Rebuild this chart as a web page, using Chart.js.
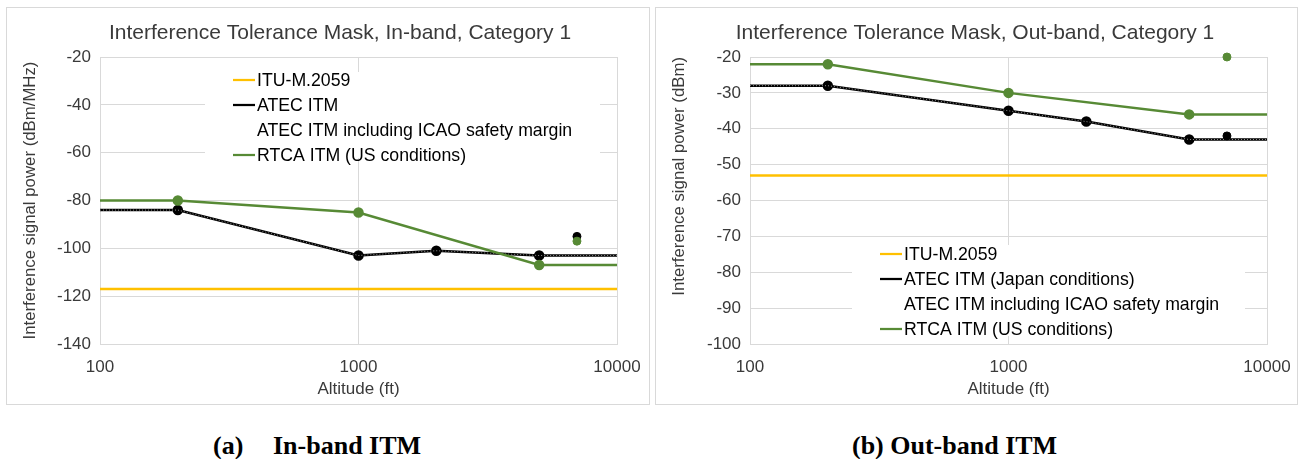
<!DOCTYPE html>
<html>
<head>
<meta charset="utf-8">
<script src="https://cdn.jsdelivr.net/npm/chart.js@4.4.1/dist/chart.umd.min.js"></script>
<style>
  html, body { margin: 0; padding: 0; background: #fff; }
  body { width: 1298px; height: 459px; position: relative; overflow: hidden; font-family: "Liberation Sans", Arial, sans-serif; }
  .panel { position: absolute; top: 7px; height: 398px; border: 1px solid #d9d9d9; box-sizing: border-box; }
  canvas { position: absolute; top: 8px; }
  .cap { position: absolute; top: 431px; font-family: "Liberation Serif", "Times New Roman", serif; font-weight: bold; font-size: 26px; line-height: 29px; color: #000; white-space: nowrap; }
</style>
</head>
<body>
<div class="panel" style="left:6px;width:644px"></div>
<div class="panel" style="left:655px;width:643px"></div>
<canvas id="inband" width="642" height="396" style="left:7px"></canvas>
<canvas id="outband" width="641" height="396" style="left:656px"></canvas>
<div class="cap" style="left:213px">(a)</div>
<div class="cap" style="left:273px">In-band ITM</div>
<div class="cap" style="left:852px">(b) Out-band ITM</div>

<script>
// Altitude breakpoints (ft)
const altitudesAtec = [100, 200, 1000, 2000, 5000, 10000];
const altitudesRtca = [100, 200, 1000, 5000, 10000];
const altitudesItu = [100, 10000];
const altitudeSpot = [7000];

// In-band interference tolerance (dBm/MHz)
const ituInBand = [-117, -117];
const atecInBand = [-84, -84, -103, -101, -103, -103];
const icaoInBand = [-84, -84, -103, -101, -103, -103];
const rtcaInBand = [-80, -80, -85, -107, -107];
const atecSpotInBand = [-95];
const rtcaSpotInBand = [-97];

// Out-band interference tolerance (dBm)
const ituOutBand = [-53, -53];
const atecOutBand = [-28, -28, -35, -38, -43, -43];
const icaoOutBand = [-28, -28, -35, -38, -43, -43];
const rtcaOutBand = [-22, -22, -30, -36, -36];
const atecSpotOutBand = [-42];
const rtcaSpotOutBand = [-20];

// Axis ticks
const xTicks = [100, 1000, 10000];
const yTicksInBand = [-20, -40, -60, -80, -100, -120, -140];
const yTicksOutBand = [-20, -30, -40, -50, -60, -70, -80, -90, -100];

const FONT = '"Liberation Sans", Arial, sans-serif';
const TEXT = '#3a3a3a';
const GRID = '#d9d9d9';
const GOLD = '#ffc000';
const GREEN = '#578a35';
const BLACK = '#000000';

Chart.defaults.font.family = FONT;
Chart.defaults.color = TEXT;

const xMin = Math.min(...xTicks);
const xMax = Math.max(...xTicks);

function pts(xs, ys) {
  return xs.map((x, i) => ({ x: x, y: ys[i] }));
}

// interior breakpoints carry a marker, the ends at the axis limits do not
const innerMarker = ctx => (ctx.raw && (ctx.raw.x === xMin || ctx.raw.x === xMax)) ? 0 : 4;

// chart title drawn at a fixed centre
const panelTitle = {
  id: 'panelTitle',
  afterDraw(chart, args, opts) {
    const ctx = chart.ctx;
    ctx.save();
    ctx.font = opts.font;
    ctx.fillStyle = opts.color;
    ctx.textAlign = 'center';
    ctx.textBaseline = 'middle';
    ctx.fillText(opts.text, opts.x, opts.y);
    ctx.restore();
  }
};

// legend inside the plot area, on a white box over the grid
const boxLegend = {
  id: 'boxLegend',
  beforeDatasetsDraw(chart, args, opts) {
    const ctx = chart.ctx;
    ctx.save();
    ctx.fillStyle = '#ffffff';
    ctx.fillRect(opts.box.x, opts.box.y, opts.box.w, opts.box.h);
    ctx.font = opts.font;
    ctx.textBaseline = 'middle';
    ctx.textAlign = 'left';
    opts.items.forEach((label, i) => {
      const ds = chart.data.datasets.find(d => d.label === label);
      const y = opts.y + i * opts.spacing;
      ctx.strokeStyle = ds.borderColor;
      ctx.lineWidth = 2.25;
      ctx.setLineDash([]);
      ctx.beginPath();
      ctx.moveTo(opts.x, y);
      ctx.lineTo(opts.x + 22, y);
      ctx.stroke();
      ctx.fillStyle = '#000';
      ctx.fillText(label, opts.x + 24, y + 1);
    });
    ctx.restore();
  }
};

function buildChart(id, cfg) {
  const datasets = [
    { label: 'ITU-M.2059', data: pts(altitudesItu, cfg.itu), borderColor: GOLD, backgroundColor: GOLD,
      borderWidth: 2.5, pointRadius: 0, order: 5 },
    { label: cfg.atecLabel, data: pts(altitudesAtec, cfg.atec), borderColor: BLACK, backgroundColor: BLACK,
      borderWidth: 2.5, pointRadius: innerMarker, pointHoverRadius: innerMarker, order: 4 },
    { label: 'ATEC ITM including ICAO safety margin', data: pts(altitudesAtec, cfg.icao),
      borderColor: 'rgba(255,255,255,0.55)', backgroundColor: 'rgba(255,255,255,0)',
      borderWidth: 1, borderDash: [1, 2], pointRadius: 0, order: 3 },
    { label: 'RTCA ITM (US conditions)', data: pts(altitudesRtca, cfg.rtca), borderColor: GREEN, backgroundColor: GREEN,
      borderWidth: 2.5, pointRadius: innerMarker, pointHoverRadius: innerMarker, order: 2 },
    { label: cfg.atecLabel + ' (7000 ft)', data: pts(altitudeSpot, cfg.atecSpot), borderColor: BLACK, backgroundColor: BLACK,
      showLine: false, pointRadius: 4, order: 1 },
    { label: 'RTCA ITM (US conditions) (7000 ft)', data: pts(altitudeSpot, cfg.rtcaSpot), borderColor: GREEN, backgroundColor: GREEN,
      showLine: false, pointRadius: 4, order: 0 }
  ];

  return new Chart(document.getElementById(id), {
    type: 'line',
    data: { datasets: datasets },
    plugins: [boxLegend, panelTitle],
    options: {
      responsive: false,
      animation: false,
      events: [],
      clip: false,
      layout: { padding: { left: 0, right: cfg.padRight, top: 49, bottom: 0 } },
      plugins: {
        legend: { display: false },
        tooltip: { enabled: false },
        title: { display: false },
        panelTitle: { text: cfg.title, x: cfg.titleX, y: 25, font: '21px ' + FONT, color: TEXT },
        boxLegend: {
          items: ['ITU-M.2059', cfg.atecLabel, 'ATEC ITM including ICAO safety margin', 'RTCA ITM (US conditions)'],
          box: cfg.legendBox, x: cfg.legendX, y: cfg.legendY, spacing: 25, font: '17.7px ' + FONT
        }
      },
      scales: {
        x: {
          type: 'logarithmic',
          min: xMin,
          max: xMax,
          afterBuildTicks: s => { s.ticks = xTicks.map(v => ({ value: v })); },
          afterFit: s => { s.height = 60; },
          grid: { color: GRID, lineWidth: 1, drawTicks: true, tickLength: 10, tickColor: 'rgba(0,0,0,0)' },
          border: { display: true, color: GRID },
          ticks: { color: TEXT, font: { size: 17 }, padding: 3, maxRotation: 0, autoSkip: false,
                   callback: v => String(v) },
          title: { display: true, text: 'Altitude (ft)', color: TEXT, font: { size: 17 },
                   padding: { top: 0, bottom: 4 } }
        },
        y: {
          min: Math.min(...cfg.yTicks),
          max: Math.max(...cfg.yTicks),
          afterBuildTicks: s => { s.ticks = cfg.yTicks.map(v => ({ value: v })); },
          afterFit: s => { s.width = cfg.yWidth; },
          grid: { color: GRID, lineWidth: 1, drawTicks: false },
          border: { display: true, color: GRID },
          ticks: { color: TEXT, font: { size: 17 }, padding: 9, callback: v => String(v) },
          title: { display: true, text: cfg.yTitle, color: TEXT, font: { size: 16.8 }, align: cfg.yTitleAlign,
                   padding: { top: 13, bottom: 0 } }
        }
      }
    }
  });
}

buildChart('inband', {
  title: 'Interference Tolerance Mask, In-band, Category 1',
  titleX: 333,
  yTitle: 'Interference signal power (dBm/MHz)',
  yTitleAlign: 'center',
  atecLabel: 'ATEC ITM',
  itu: ituInBand, atec: atecInBand, icao: icaoInBand, rtca: rtcaInBand,
  atecSpot: atecSpotInBand, rtcaSpot: rtcaSpotInBand,
  yTicks: yTicksInBand,
  yWidth: 93,
  padRight: 32,
  legendBox: { x: 198, y: 64, w: 395, h: 86 },
  legendX: 226, legendY: 72
});

buildChart('outband', {
  title: 'Interference Tolerance Mask, Out-band, Category 1',
  titleX: 319,
  yTitle: 'Interference signal power (dBm)',
  yTitleAlign: 'end',
  atecLabel: 'ATEC ITM (Japan conditions)',
  itu: ituOutBand, atec: atecOutBand, icao: icaoOutBand, rtca: rtcaOutBand,
  atecSpot: atecSpotOutBand, rtcaSpot: rtcaSpotOutBand,
  yTicks: yTicksOutBand,
  yWidth: 94,
  padRight: 30,
  legendBox: { x: 196, y: 237, w: 393, h: 91 },
  legendX: 224, legendY: 246
});
</script>
</body>
</html>
